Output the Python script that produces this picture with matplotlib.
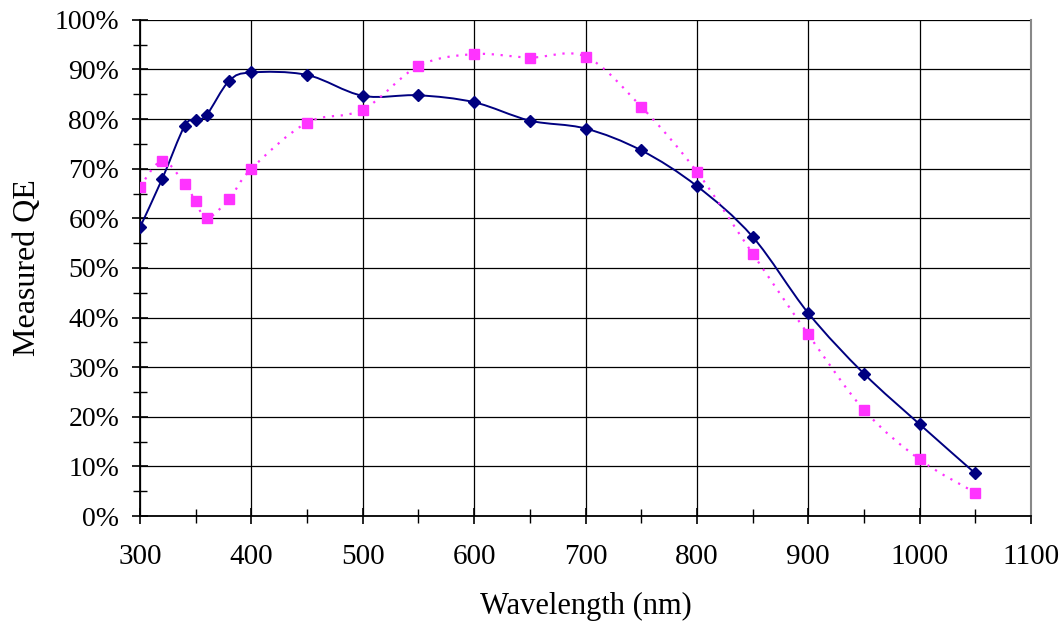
import numpy as np
import matplotlib
matplotlib.use('Agg')
import matplotlib.pyplot as plt
from matplotlib.path import Path
from matplotlib.patches import PathPatch
from matplotlib.ticker import MultipleLocator, FuncFormatter

# Longueurs d'onde (nm) et QE mesurée (%)
wavelength = [300, 320, 340, 350, 360, 380, 400, 450, 500, 550,
              600, 650, 700, 750, 800, 850, 900, 950, 1000, 1050]
qe_blue = [58.2, 68.0, 78.6, 79.8, 80.9, 87.7, 89.4, 88.9, 84.7, 84.8,
           83.4, 79.7, 78.1, 73.7, 66.5, 56.3, 40.9, 28.7, 18.5, 8.6]
qe_pink = [66.4, 71.6, 67.0, 63.4, 60.0, 63.9, 70.0, 79.3, 81.9, 90.7,
           93.1, 92.4, 92.6, 82.5, 69.4, 52.9, 36.6, 21.4, 11.4, 4.7]


def smooth_path(x, y):
    """Courbe lissée façon Excel (Bezier type Catmull-Rom)."""
    p = np.column_stack([x, y]).astype(float)
    n = len(p)
    verts = [p[0]]
    codes = [Path.MOVETO]
    for i in range(n - 1):
        p0 = p[i - 1] if i > 0 else p[i]
        p3 = p[i + 2] if i + 2 < n else p[i + 1]
        c1 = p[i] + (p[i + 1] - p0) / 6
        c2 = p[i + 1] - (p3 - p[i]) / 6
        verts += [c1, c2, p[i + 1]]
        codes += [Path.CURVE4] * 3
    return Path(verts, codes)


plt.rcParams['font.family'] = ['Liberation Serif', 'DejaVu Serif']

fig = plt.figure(figsize=(10.64, 6.21), dpi=100)
ax = fig.add_axes([0.1316, 0.169, 0.969 - 0.1316, 0.968 - 0.169])

ax.add_patch(PathPatch(smooth_path(wavelength, qe_blue), fill=False,
                       edgecolor='#000080', lw=1.4, zorder=3))
ax.plot(wavelength, qe_blue, ls='none', marker='D', ms=6,
        color='#000080', zorder=4)

ax.add_patch(PathPatch(smooth_path(wavelength, qe_pink), fill=False,
                       edgecolor='#FF33FF', lw=1.6, ls=(0, (1, 3)), zorder=3))
ax.plot(wavelength, qe_pink, ls='none', marker='s', ms=7.5,
        color='#FF33FF', zorder=4)

ax.set_xlim(300, 1100)
ax.set_ylim(0, 100)
ax.xaxis.set_major_locator(MultipleLocator(100))
ax.xaxis.set_minor_locator(MultipleLocator(50))
ax.yaxis.set_major_locator(MultipleLocator(10))
ax.yaxis.set_minor_locator(MultipleLocator(5))
ax.yaxis.set_major_formatter(FuncFormatter(lambda v, _: f'{v:.0f}%'))

ax.grid(True, which='major', color='black', lw=0.9)
ax.set_axisbelow(True)
ax.tick_params(which='major', direction='inout', length=12, width=1.2,
               color='black')
ax.tick_params(which='minor', direction='inout', length=10, width=1.0)
ax.tick_params(axis='x', pad=14, labelsize=21)
ax.tick_params(axis='y', pad=9, labelsize=20)

for s in ['left', 'bottom']:
    ax.spines[s].set_color('black')
    ax.spines[s].set_linewidth(1.3)
ax.spines['top'].set_visible(False)
ax.spines['right'].set_color('#888888')
ax.spines['right'].set_linewidth(1.5)

ax.set_xlabel('Wavelength (nm)', fontsize=22, labelpad=16)
ax.set_ylabel('Measured QE', fontsize=23, labelpad=9)

plt.savefig('out.png', dpi=100)
plt.close()
